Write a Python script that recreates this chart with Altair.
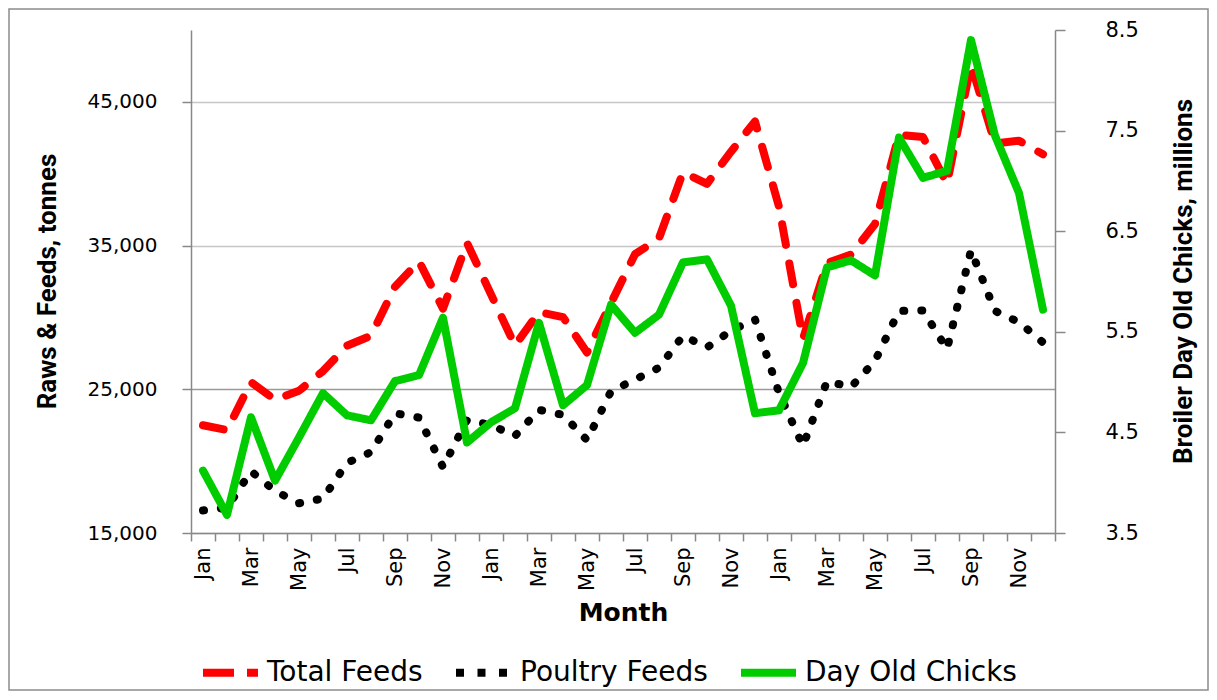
import altair as alt
import pandas as pd

month_names = ["Jan", "Feb", "Mar", "Apr", "May", "Jun", "Jul", "Aug", "Sep", "Oct", "Nov", "Dec"]
month_index = list(range(36))

total_feeds = [22500, 22160, 25500, 24270, 24900, 26270, 28030, 28730, 32140, 33900, 30610, 35190,
               31600, 28050, 30380, 30020, 27560, 31000, 34400, 35500, 40100, 39300, 41530, 43640,
               37700, 28500, 33780, 34370, 36500, 42700, 42550, 39300, 47600, 42110, 42300, 41350]
poultry_feeds = [16570, 16760, 19300, 17930, 17070, 17400, 19880, 20630, 23330, 23030, 19580, 22860,
                 22510, 21760, 23570, 23220, 21460, 24860, 25680, 26500, 28730, 27910, 29080, 29860,
                 24740, 21060, 25560, 25160, 26970, 30450, 30490, 27790, 34670, 30450, 29670, 28260]
day_old_chicks = [4.12, 3.68, 4.65, 4.02, 4.45, 4.89, 4.67, 4.62, 5.01, 5.07, 5.64, 4.40,
                  4.60, 4.74, 5.59, 4.77, 4.97, 5.77, 5.49, 5.67, 6.19, 6.22, 5.76, 4.69,
                  4.72, 5.19, 6.14, 6.21, 6.06, 7.43, 7.03, 7.10, 8.40, 7.45, 6.88, 5.72]

series_names = ["Total Feeds", "Poultry Feeds", "Day Old Chicks"]
series_colors = ["#ff0000", "#000000", "#00cc00"]
series_dashes = [[21, 19], [1, 17], [1, 0]]
legend_dashes = [[31, 13], [8, 13.5], [1, 0]]
left_ticks = [15000, 25000, 35000, 45000]
right_ticks = [3.5, 4.5, 5.5, 6.5, 7.5, 8.5]

feeds = pd.DataFrame({
    "idx": month_index * 2,
    "series": [series_names[0]] * 36 + [series_names[1]] * 36,
    "value": total_feeds + poultry_feeds,
})
chicks = pd.DataFrame({
    "idx": month_index,
    "series": [series_names[2]] * 36,
    "value": day_old_chicks,
})
# legend-only helper rows (outside the clipped plot: only their legend is seen)
legend_rows = pd.DataFrame({
    "idx": [0, 1] * 3,
    "series": [s for s in series_names for _ in range(2)],
    "value": [0] * 6,
})

names_js = "[" + ",".join("'%s'" % m for m in month_names) + "]"
label_expr = "datum.value % 2 == 0 ? " + names_js + "[datum.value % 12] : ''"

TICK_FONT = "DejaVu Sans"
TITLE_FONT = "Liberation Sans Narrow, Roboto, Liberation Sans"
GRAY = "#888888"

legend = alt.Legend(
    title=None, orient="none", direction="horizontal", legendX=8, legendY=611,
    symbolType="stroke", symbolSize=3025, symbolStrokeWidth=8,
    labelFont=TICK_FONT, labelFontSize=28, labelColor="#000000", labelLimit=400,
    labelOffset=5, columnPadding=17, padding=0,
)

x_enc = alt.X(
    "idx:O",
    scale=alt.Scale(type="band", paddingInner=0, paddingOuter=0),
    axis=alt.Axis(
        title="Month", labelAngle=270, labelExpr=label_expr, tickBand="extent",
        labelOverlap=False, grid=False, domainColor=GRAY, domainWidth=1.5,
        tickColor=GRAY, tickWidth=1.5, tickSize=8, labelPadding=6,
        labelFont=TICK_FONT, labelFontSize=21, labelColor="#000000",
        titleFont="DejaVu Sans", titleFontWeight="bold", titleFontSize=25,
        titleColor="#000000", titlePadding=10,
    ),
)

left_y = alt.Y(
    "value:Q",
    scale=alt.Scale(domain=[15000, 50000], nice=False, zero=False),
    axis=alt.Axis(
        values=left_ticks, format=",d", grid=True,
        gridColor={"condition": {"test": "datum.value == 25000", "value": "#9a9a9a"}, "value": "#c6c6c6"},
        gridWidth=1.3,
        domainColor=GRAY, domainWidth=1.5, tickColor=GRAY, tickWidth=1.5, tickSize=9,
        labelPadding=25, labelFont=TICK_FONT, labelFontSize=20, labelColor="#000000",
        title="Raws & Feeds, tonnes", titleFont=TITLE_FONT, titleFontWeight="bold",
        titleFontSize=26, titleColor="#000000", titleAngle=270, titleX=-144, titleY=251,
        titleAlign="center", titleBaseline="middle",
    ),
)

stroke = alt.Stroke("series:N", scale=alt.Scale(domain=series_names, range=series_colors), legend=None)
dash = alt.StrokeDash("series:N", scale=alt.Scale(domain=series_names, range=series_dashes), legend=None)

left = alt.Chart(feeds).mark_line(strokeWidth=8, strokeCap="round", strokeJoin="round").encode(
    x=x_enc, y=left_y, stroke=stroke, strokeDash=dash, detail="series:N",
)

right = alt.Chart(chicks).mark_line(strokeWidth=8, strokeCap="round", strokeJoin="round").encode(
    x=x_enc,
    y=alt.Y(
        "value:Q",
        scale=alt.Scale(domain=[3.5, 8.5], nice=False, zero=False),
        axis=alt.Axis(
            orient="right", values=right_ticks, format=".1f", grid=False,
            domainColor=GRAY, domainWidth=1.5, tickColor=GRAY, tickWidth=1.5, tickSize=10,
            labelPadding=40, labelFont=TICK_FONT, labelFontSize=21, labelColor="#000000",
            title="Broiler Day Old Chicks, millions", titleFont=TITLE_FONT, titleFontWeight="bold",
            titleFontSize=26, titleColor="#000000", titleAngle=270, titleX=128, titleY=251,
            titleAlign="center", titleBaseline="middle",
        ),
    ),
    stroke=stroke,
    strokeDash=dash,
)

legend_layer = alt.Chart(legend_rows).mark_line(strokeWidth=8, clip=True).encode(
    x=x_enc,
    y=alt.Y("value:Q", scale=alt.Scale(domain=[15000, 50000], nice=False, zero=False), axis=None),
    color=alt.Color("series:N", scale=alt.Scale(domain=series_names, range=series_colors), legend=legend),
    strokeDash=alt.StrokeDash("series:N", scale=alt.Scale(domain=series_names, range=legend_dashes), legend=legend),
)

frame = alt.Chart(pd.DataFrame({"f": [0]})).mark_rect(filled=False, stroke="#8c8c8c", strokeWidth=1.5).encode(
    x=alt.value(-182), x2=alt.value(1017), y=alt.value(-21), y2=alt.value(660)
)

chart = alt.layer(left, right, legend_layer, frame).resolve_scale(
    y="independent", strokeDash="independent", color="independent"
).properties(
    width=864, height=503,
    autosize=alt.AutoSizeParams(type="none"),
    padding={"left": 183, "top": 22, "right": 154, "bottom": 159},
).configure_view(stroke=None)

chart.save("out.html", embed_options={"renderer": "svg", "actions": False})
